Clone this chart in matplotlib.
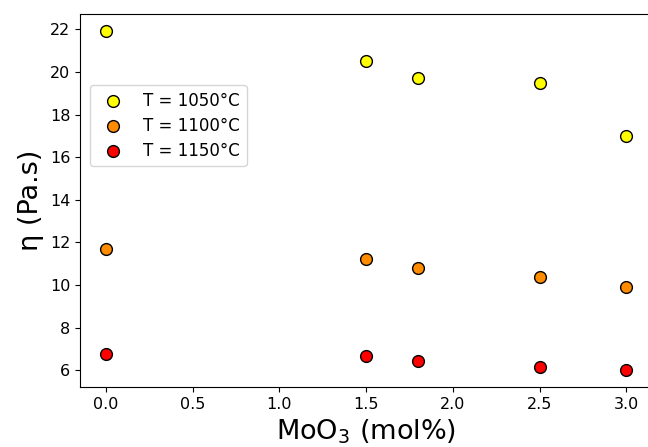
import matplotlib
matplotlib.use("Agg")
import matplotlib.pyplot as plt

# MoO3 content (mol%) and viscosity at three temperatures
moo3 = [0.0, 1.5, 1.8, 2.5, 3.0]
eta_1050 = [21.92, 20.5, 19.73, 19.5, 16.98]
eta_1100 = [11.68, 11.2, 10.78, 10.4, 9.89]
eta_1150 = [6.75, 6.66, 6.42, 6.14, 6.0]

labels = ["T = 1050°C", "T = 1100°C", "T = 1150°C"]
colors = ["yellow", "darkorange", "red"]

fig = plt.figure(figsize=(6.48, 4.47), dpi=100)
# right spine falls just outside the saved image, like the reference
ax = fig.add_axes([0.1235, 0.1336, 0.883, 0.835])

for ys, lab, col in zip([eta_1050, eta_1100, eta_1150], labels, colors):
    ax.scatter(moo3, ys, s=72, c=col, edgecolors="black", linewidths=1.0,
               label=lab, zorder=3)

ax.set_xticks([0.0, 0.5, 1.0, 1.5, 2.0, 2.5, 3.0])
ax.set_yticks(range(6, 23, 2))
ax.tick_params(labelsize=11.5)
ax.set_xlabel("MoO$_3$ (mol%)", fontsize=19.5)
ax.set_ylabel("η (Pa.s)", fontsize=19.5)
ax.legend(loc="upper left", bbox_to_anchor=(0.0175, 0.81), borderaxespad=0,
          fontsize=12, labelspacing=0.42)

fig.savefig("out.png", dpi=100)
